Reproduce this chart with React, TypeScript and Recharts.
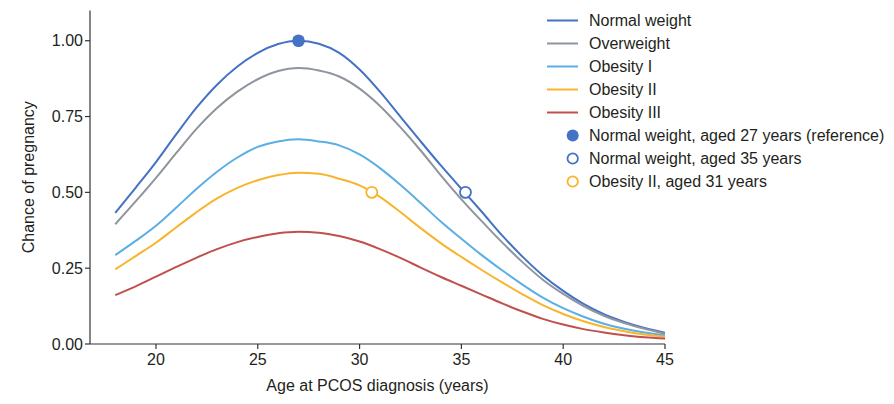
import React from "react";
import { ComposedChart, Line, XAxis, YAxis, ReferenceDot, Label } from "recharts";

const ages = [18, 19, 20, 21, 22, 23, 24, 25, 26, 27, 28, 29, 30, 31, 32, 33, 34, 35, 36, 37, 38, 39, 40, 41, 42, 43, 44, 45];
const normalWeight = [0.432, 0.515, 0.6, 0.692, 0.78, 0.855, 0.915, 0.96, 0.989, 1.0, 0.99, 0.96, 0.905, 0.832, 0.75, 0.668, 0.588, 0.512, 0.436, 0.358, 0.288, 0.226, 0.175, 0.132, 0.098, 0.073, 0.053, 0.037];
const overweight = [0.395, 0.47, 0.548, 0.63, 0.71, 0.778, 0.832, 0.873, 0.9, 0.91, 0.902, 0.882, 0.842, 0.785, 0.715, 0.638, 0.555, 0.477, 0.405, 0.335, 0.27, 0.212, 0.165, 0.125, 0.093, 0.069, 0.05, 0.034];
const obesity1 = [0.293, 0.34, 0.39, 0.45, 0.512, 0.568, 0.615, 0.65, 0.668, 0.675, 0.668, 0.655, 0.625, 0.58, 0.525, 0.465, 0.403, 0.347, 0.293, 0.243, 0.196, 0.153, 0.118, 0.09, 0.067, 0.05, 0.038, 0.029];
const obesity2 = [0.246, 0.29, 0.334, 0.385, 0.435, 0.48, 0.515, 0.54, 0.557, 0.565, 0.561, 0.545, 0.523, 0.485, 0.435, 0.382, 0.332, 0.287, 0.244, 0.203, 0.164, 0.128, 0.099, 0.075, 0.056, 0.042, 0.031, 0.024];
const obesity3 = [0.161, 0.19, 0.222, 0.254, 0.285, 0.313, 0.336, 0.353, 0.365, 0.37, 0.367, 0.356, 0.338, 0.313, 0.284, 0.252, 0.221, 0.192, 0.163, 0.134, 0.107, 0.083, 0.064, 0.049, 0.038, 0.029, 0.022, 0.018];

const xTicks = [20, 25, 30, 35, 40, 45];
const yTicks = [0, 0.25, 0.5, 0.75, 1.0];

const seriesNames = ["Normal weight", "Overweight", "Obesity I", "Obesity II", "Obesity III"];
const seriesKeys = ["nw", "ow", "o1", "o2", "o3"];
const seriesColors = ["#4472C4", "#8E959E", "#5AAFE4", "#F8B52C", "#C0504D"];

const markerX = [27, 35.2, 30.6];
const markerY = [1.0, 0.5, 0.5];
const markerLabels = [
  "Normal weight, aged 27 years (reference)",
  "Normal weight, aged 35 years",
  "Obesity II, aged 31 years",
];
const markerColors = ["#4472C4", "#4472C4", "#F8B52C"];
const markerFilled = [true, false, false];

const allSeries = [normalWeight, overweight, obesity1, obesity2, obesity3];
const data = ages.map((age, i) => {
  const row: Record<string, number> = { age };
  seriesKeys.forEach((k, j) => {
    row[k] = allSeries[j][i];
  });
  return row;
});

const FONT = "'Liberation Sans', Arial, sans-serif";
const TEXT = "#231f20";

const YLabel = (props: any) => {
  const vb = props.viewBox || {};
  const cx = 26;
  const cy = (vb.y ?? 0) + (vb.height ?? 0) / 2;
  return (
    <text
      x={cx}
      y={cy}
      transform={`rotate(-90, ${cx}, ${cy})`}
      textAnchor="middle"
      fontSize={16}
      fontFamily={FONT}
      fill={TEXT}
    >
      Chance of pregnancy
    </text>
  );
};

function LegendBox() {
  return (
    <div
      style={{
        position: "absolute",
        left: 539,
        top: 0.5,
        fontFamily: FONT,
        fontSize: 16,
        color: TEXT,
        lineHeight: "23.1px",
      }}
    >
      {seriesNames.map((n, i) => (
        <div key={n} style={{ display: "flex", alignItems: "center", height: 23.1, whiteSpace: "nowrap" }}>
          <svg width={42} height={23} style={{ display: "block" }}>
            <line x1={0} x2={31} y1={11.5} y2={11.5} stroke={seriesColors[i]} strokeWidth={2} />
          </svg>
          <span>{n}</span>
        </div>
      ))}
      {markerLabels.map((n, i) => (
        <div key={n} style={{ display: "flex", alignItems: "center", height: 23.1, whiteSpace: "nowrap" }}>
          <svg width={42} height={23} style={{ display: "block" }}>
            <circle
              cx={25.7}
              cy={11.5}
              r={markerFilled[i] ? 6 : 5.2}
              fill={markerFilled[i] ? markerColors[i] : "#fff"}
              stroke={markerColors[i]}
              strokeWidth={markerFilled[i] ? 0 : 1.8}
            />
          </svg>
          <span>{n}</span>
        </div>
      ))}
    </div>
  );
}

export default function App() {
  return (
    <div style={{ position: "relative", width: 886, height: 396 }}>
      <ComposedChart
        width={886}
        height={396}
        data={data}
        margin={{ top: 2.4, right: 229, bottom: 13, left: 22 }}
      >
        <XAxis
          dataKey="age"
          type="number"
          domain={[16.76, 45]}
          allowDataOverflow
          ticks={xTicks}
          tickSize={5}
          tickMargin={5}
          height={47}
          stroke="#333"
          strokeWidth={1.2}
          tick={{ fontSize: 16, fontFamily: FONT, fill: TEXT }}
        >
          <Label
            value="Age at PCOS diagnosis (years)"
            position="insideBottom"
            offset={0}
            style={{ fontSize: 16, fontFamily: FONT, fill: TEXT }}
          />
        </XAxis>
        <YAxis
          type="number"
          domain={[0, 1.1]}
          allowDataOverflow
          ticks={yTicks}
          tickFormatter={(v: number) => v.toFixed(2)}
          tickSize={5}
          tickMargin={2}
          width={60}
          stroke="#333"
          strokeWidth={1.2}
          tick={{ fontSize: 16, fontFamily: FONT, fill: TEXT }}
          label={<YLabel />}
        />
        {seriesKeys.map((k, i) => (
          <Line
            key={k}
            dataKey={k}
            type="monotone"
            stroke={seriesColors[i]}
            strokeWidth={2}
            dot={false}
            activeDot={false}
            isAnimationActive={false}
          />
        ))}
        {markerX.map((x, i) => (
          <ReferenceDot
            key={i}
            x={x}
            y={markerY[i]}
            r={markerFilled[i] ? 6.3 : 5.5}
            fill={markerFilled[i] ? markerColors[i] : "#fff"}
            stroke={markerColors[i]}
            strokeWidth={markerFilled[i] ? 0 : 1.8}
            ifOverflow="visible"
          />
        ))}
      </ComposedChart>
      <LegendBox />
    </div>
  );
}
